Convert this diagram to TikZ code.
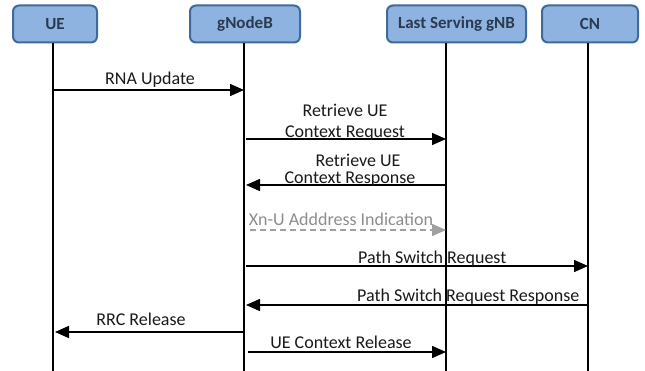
\documentclass[tikz,border=0pt]{standalone}
\usepackage{fontspec}
\setmainfont{Carlito}
\usetikzlibrary{arrows.meta}
\definecolor{boxfill}{HTML}{8FB3E0}
\definecolor{boxedge}{HTML}{3F6A99}
\definecolor{boxtext}{HTML}{2A3A50}
\definecolor{greyline}{HTML}{A0A0A0}
\definecolor{greytext}{HTML}{8C8C8C}
\tikzset{
  actor/.style={draw=boxedge, fill=boxfill, line width=2pt, rounded corners=6pt,
    minimum height=37pt, inner sep=0pt, font=\fontsize{17}{20}\selectfont\bfseries, text=boxtext},
  life/.style={line width=1.8pt, black},
  msg/.style={line width=1.5pt, black, -{Triangle[length=14pt,width=12pt]}},
  dmsg/.style={line width=1.5pt, greyline, dash pattern=on 6pt off 4pt, -{Triangle[length=14pt,width=12pt]}},
  lbl/.style={font=\fontsize{18}{20.5}\selectfont, inner sep=0pt, align=center, text=black!90},
}
\begin{document}
\begin{tikzpicture}[x=1pt,y=-1pt]
\useasboundingbox (0,0) rectangle (645,371);
% actors
\node[actor, minimum width=84pt] (ue) at (55,24) {UE};
\node[actor, minimum width=110pt] (gnb) at (245,24) {gNodeB};
\node[actor, minimum width=139pt] (lsg) at (456.5,24) {Last Serving gNB};
\node[actor, minimum width=96pt] (cn) at (590,24) {CN};
% lifelines
\coordinate (ueT) at (53,43); \coordinate (ueB) at (53,371);
\coordinate (gT) at (244,43); \coordinate (gB) at (244,371);
\coordinate (lT) at (446,43); \coordinate (lB) at (446,371);
\coordinate (cT) at (588,43); \coordinate (cB) at (588,371);
\draw[life] (ueT) -- (ueB);
\draw[life] (gT) -- (gB);
\draw[life] (lT) -- (lB);
\draw[life] (cT) -- (cB);
% message endpoints
\coordinate (m1a) at (53,90);  \coordinate (m1b) at (244,90);
\coordinate (m2a) at (246,139); \coordinate (m2b) at (446,139);
\coordinate (m3a) at (446,185); \coordinate (m3b) at (246,185);
\coordinate (m4a) at (250,230); \coordinate (m4b) at (446,230);
\coordinate (m5a) at (246,266); \coordinate (m5b) at (588,266);
\coordinate (m6a) at (588,305); \coordinate (m6b) at (246,305);
\coordinate (m7a) at (244,332); \coordinate (m7b) at (55,332);
\coordinate (m8a) at (248,352); \coordinate (m8b) at (446,352);
% messages
\draw[msg] (m1a) -- (m1b);
\node[lbl] (l1) at (150,80) {RNA Update};
\draw[msg] (m2a) -- (m2b);
\node[lbl] (l2) at (345,122.5) {Retrieve UE\\Context Request};
\draw[msg] (m3a) -- (m3b);
\node[lbl, font=\fontsize{18}{17}\selectfont] (l3) at (350,170) {\hspace*{16pt}Retrieve UE\\Context Response};
\draw[dmsg] (m4a) -- (m4b);
\node[lbl, text=greytext] (l4) at (341,219) {Xn-U Adddress Indication};
\draw[msg] (m5a) -- (m5b);
\node[lbl, anchor=west] (l5) at (358,258.5) {Path Switch Request};
\draw[msg] (m6a) -- (m6b);
\node[lbl, anchor=west] (l6) at (357,296.5) {Path Switch Request Response};
\draw[msg] (m7a) -- (m7b);
\node[lbl] (l7) at (141,319.5) {RRC Release};
\draw[msg] (m8a) -- (m8b);
\node[lbl] (l8) at (341,342) {UE Context Release};
\end{tikzpicture}
\end{document}
